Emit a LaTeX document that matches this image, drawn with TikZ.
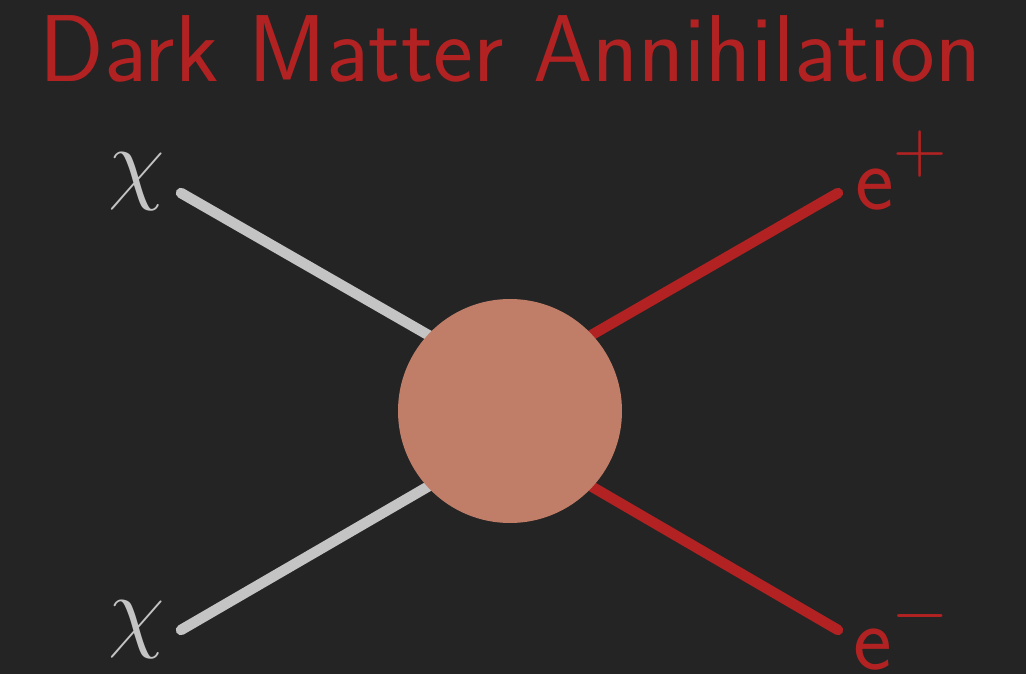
\documentclass[tikz,border=0pt]{standalone}
\usepackage{fix-cm}
\definecolor{bg}{HTML}{242424}
\definecolor{dmgray}{HTML}{C4C4C4}
\definecolor{dmred}{HTML}{B22222}
\definecolor{blob}{HTML}{C07E69}
\tikzset{
  gline/.style={draw=dmgray, line width=10.5pt, line cap=round},
  rline/.style={draw=dmred, line width=10.5pt, line cap=round},
  lbl/.style={inner sep=0pt, anchor=base, font=\fontsize{92}{92}\selectfont},
}
\newcommand{\supsym}[2]{\raisebox{#1pt}{\fontsize{74}{74}\selectfont$#2$}}
\begin{document}
\begin{tikzpicture}[x=1pt,y=-1pt]
\fill[bg] (0,0) rectangle (1026,674);
\useasboundingbox (0,0) rectangle (1026,674);
\node[inner sep=0pt, anchor=base, text=dmred, font=\fontsize{95}{95}\selectfont\sffamily] (title) at (510.5,82) {Dark Matter Annihilation};
\coordinate (c) at (510,411);
\coordinate (ct) at (510,382);
\coordinate (cb) at (510,439);
\coordinate (a1) at (181,193);
\coordinate (a2) at (181,630);
\coordinate (b1) at (838,193);
\coordinate (b2) at (838,630);
\draw[gline] (a1) -- (ct);
\draw[gline] (a2) -- (cb);
\draw[rline] (b1) -- (ct);
\draw[rline] (b2) -- (cb);
\node[circle, fill=blob, minimum size=224pt, inner sep=0pt] (v) at (c) {};
\node[lbl, text=dmgray] (chi1) at (137,193) {$\chi$};
\node[lbl, text=dmgray] (chi2) at (137,640) {$\chi$};
\node[lbl, text=dmred, anchor=base west] (ep) at (855,210) {\sffamily e\supsym{37}{+}};
\node[lbl, text=dmred, anchor=base west] (em) at (853,669) {\sffamily e\supsym{34.5}{-}};
\end{tikzpicture}
\end{document}
